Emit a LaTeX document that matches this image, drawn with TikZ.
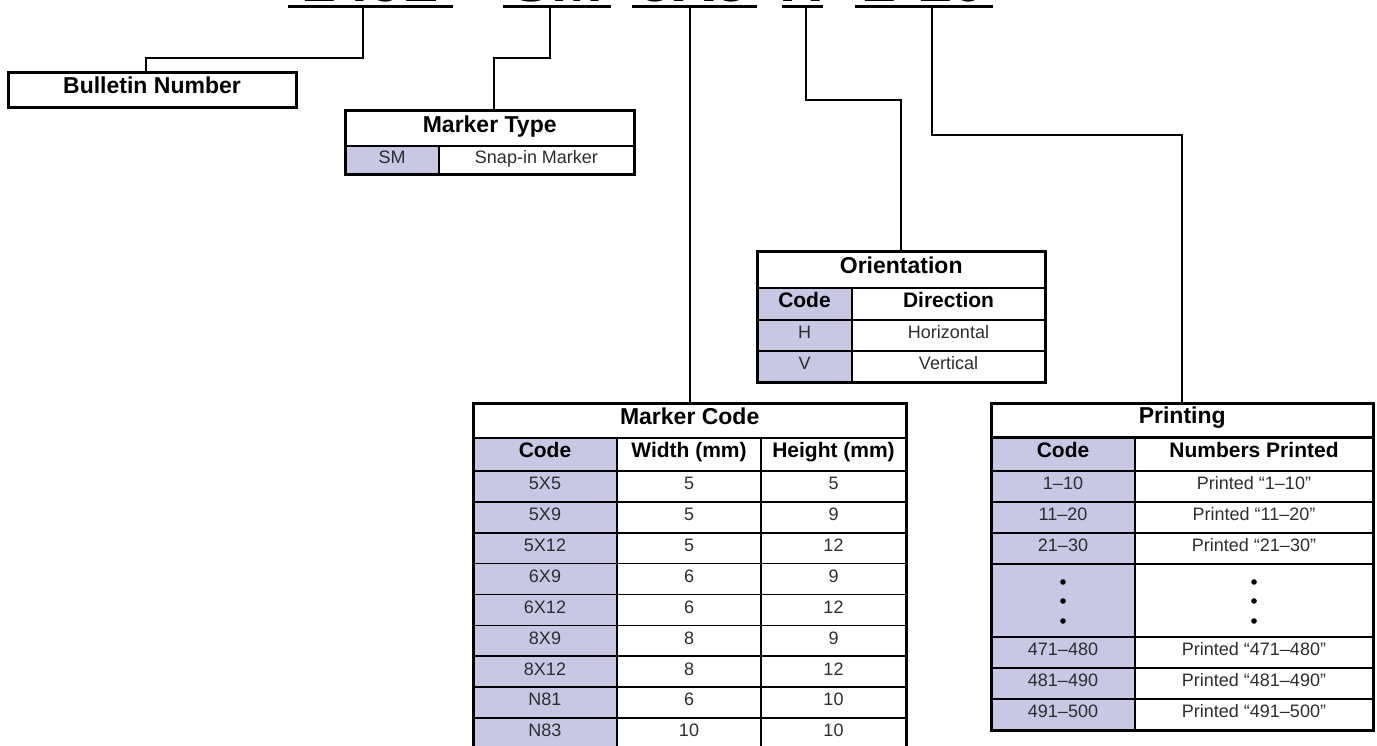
\documentclass[tikz,border=0pt]{standalone}
\usepackage{fontspec}
\setmainfont{Liberation Sans}
\definecolor{codefill}{RGB}{200,200,228}
\definecolor{entrytext}{RGB}{45,45,45}
\tikzset{
  boxline/.style={line width=3pt},
  gridline/.style={line width=1.6pt},
  wire/.style={line width=1.7pt},
  tabtitle/.style={font=\fontsize{23}{26}\selectfont\bfseries, text height=1.5ex, text depth=.25ex, inner sep=0pt},
  colhead/.style={font=\fontsize{21}{24}\selectfont\bfseries, text height=1.5ex, text depth=.25ex},
  entry/.style={font=\fontsize{18}{21}\selectfont, text=entrytext, text height=1.5ex, text depth=.25ex},
}
\begin{document}
\begin{tikzpicture}[x=1pt, y=-1pt]
    \useasboundingbox (0,0) rectangle (1377,746);
    \clip (0,0) rectangle (1377,746);
    % Part number (cut off at the top edge)
    \foreach \t/\x/\a/\b [count=\k] in {1492/370/288/453, SM/557/503/611, 5X5/694/632/757, H/802/782/823, 1-10/924/855/993} {
        \node[font=\fontsize{62}{62}\selectfont\bfseries, anchor=base, inner sep=0pt] (seg\k) at (\x,1.5) {\t};
        \draw[line width=3pt] (\a,7) -- (\b,7);
    }
    \coordinate (u1) at (363,7);
    \coordinate (u2) at (550,7);
    \coordinate (u3) at (690,7);
    \coordinate (u4) at (806,7);
    \coordinate (u5) at (932,7);
    % Boxes and table titles
    \node[draw, boxline, tabtitle, minimum width=288pt, minimum height=35pt] (bulletin) at (152,90.5) {Bulletin Number};
    \node[tabtitle, anchor=north west, minimum width=289pt, minimum height=35pt] (markertype) at (345,111) {Marker Type};
    \node[tabtitle, anchor=north west, minimum width=288pt, minimum height=36pt] (orient) at (757,252) {Orientation};
    \node[tabtitle, anchor=north west, minimum width=433pt, minimum height=35pt] (mcode) at (473,403) {Marker Code};
    \node[tabtitle, anchor=north west, minimum width=382pt, minimum height=34.5pt] (print) at (991,403) {Printing};
    % Connectors
    \draw[wire] (u1) -- ++(0,51) -| ([xshift=-6pt]bulletin.north);
    \draw[wire] (u2) -- ++(0,51) -| ([xshift=4pt]markertype.north);
    \draw[wire] (u3) -- (u3 |- mcode.north);
    \draw[wire] (u4) -- ++(0,93) -| (orient.north);
    \draw[wire] (u5) -- ++(0,128) -| (print.north);
    % Marker type
    \fill[codefill] (345,146) rectangle (439,175);
    \draw[gridline] (439,146) -- (439,175);
    \draw[line width=2.4pt] (345,146) -- (634,146);
    \draw[boxline] (345,111) rectangle (634,175);
    \node[entry] (mt-c) at (392,160.5) {SM};
    \node[entry] (mt-d) at (536.5,160.5) {Snap-in Marker};
    % Orientation
    \fill[codefill] (757,288) rectangle (852,382);
    \foreach \y in {320,351} {
        \draw[gridline] (757,\y) -- (1045,\y);
    }
    \draw[gridline] (852,288) -- (852,382);
    \draw[line width=2.4pt] (757,288) -- (1045,288);
    \draw[boxline] (757,252) rectangle (1045,382);
    \node[colhead] (or-code) at (804.5,304) {Code};
    \node[colhead] (or-dir) at (948.5,304) {Direction};
    \node[entry] (or-1-c) at (804.5,335.5) {H};
    \node[entry] (or-1-d) at (948.5,335.5) {Horizontal};
    \node[entry] (or-2-c) at (804.5,366.5) {V};
    \node[entry] (or-2-d) at (948.5,366.5) {Vertical};
    % Marker code
    \fill[codefill] (473,438) rectangle (617,760);
    \foreach \c/\w/\h [count=\i from 0] in {5X5/5/5, 5X9/5/9, 5X12/5/12, 6X9/6/9, 6X12/6/12, 8X9/8/9, 8X12/8/12, N81/6/10, N83/10/10} {
        \draw[gridline] (473,{471+30.875*\i}) -- (906,{471+30.875*\i});
        \node[entry] (mc-\i-c) at (545,{486.5+30.875*\i}) {\c};
        \node[entry] (mc-\i-w) at (689,{486.5+30.875*\i}) {\w};
        \node[entry] (mc-\i-h) at (833.5,{486.5+30.875*\i}) {\h};
    }
    \draw[gridline] (617,438) -- (617,760);
    \draw[gridline] (761,438) -- (761,760);
    \draw[line width=2.4pt] (473,438) -- (906,438);
    \draw[boxline] (473,403) rectangle (906,760);
    \node[colhead] (mc-code) at (545,454.5) {Code};
    \node[colhead] (mc-width) at (689,454.5) {Width (mm)};
    \node[colhead] (mc-height) at (833.5,454.5) {Height (mm)};
    % Printing
    \fill[codefill] (991,437.5) rectangle (1135,730);
    \foreach \y in {471,502,533,564,637,668,699} {
        \draw[gridline] (991,\y) -- (1373,\y);
    }
    \draw[gridline] (1135,437.5) -- (1135,730);
    \draw[line width=2.4pt] (991,437.5) -- (1373,437.5);
    \draw[boxline] (991,403) rectangle (1373,730);
    \node[colhead] (pr-code) at (1063,454.5) {Code};
    \node[colhead] (pr-num) at (1254,454.5) {Numbers Printed};
    \foreach \c/\y [count=\i] in {1--10/486.5, 11--20/517.5, 21--30/548.5, 471--480/652.5, 481--490/683.5, 491--500/714.5} {
        \node[entry] (pr-\i-c) at (1063,\y) {\c};
        \node[entry] (pr-\i-n) at (1254,\y) {Printed ``\c''};
    }
    \foreach \y in {582,601,621} {
        \fill (1063,\y) circle (2.8pt);
        \fill (1254,\y) circle (2.8pt);
    }
\end{tikzpicture}
\end{document}
